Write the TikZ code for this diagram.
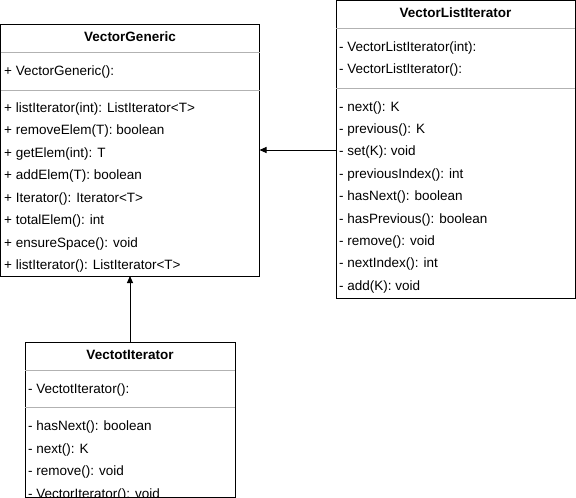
\documentclass[tikz,border=0pt]{standalone}
\usepackage{fontspec}
\setmainfont{Liberation Sans}
\usetikzlibrary{arrows.meta}
\begin{document}
\begin{tikzpicture}[x=1pt,y=-1pt,
  umlbox/.style={draw=black,line width=1pt,anchor=north west,inner sep=0pt,outer sep=0pt},
  sep/.style={draw=black!30,line width=1pt},
  title/.style={font=\fontsize{13.5}{15}\selectfont\bfseries,inner sep=0pt},
  row/.style={font=\fontsize{13.5}{15}\selectfont,anchor=west,inner sep=0pt},
  conn/.style={draw=black,line width=1pt,-{Triangle[length=7pt,width=6pt]}}]
\useasboundingbox (0,0) rectangle (576,498);
% VectorGeneric
\node[umlbox,minimum width=259pt,minimum height=252pt] (vg) at (0.5,24) {};
\node[title] (vgt) at (130,37) {VectorGeneric};
\draw[sep] (0.5,52) -- (259.5,52);
\draw[sep] (0.5,90) -- (259.5,90);
\node[row] (vg1) at (4,72.5) {+ VectorGeneric():};
\node[row] (vg2) at (4,109) {+ listIterator(int): ListIterator<T>};
\node[row] (vg3) at (4,131.5) {+ removeElem(T): boolean};
\node[row] (vg4) at (4,154) {+ getElem(int): T};
\node[row] (vg5) at (4,176.5) {+ addElem(T): boolean};
\node[row] (vg6) at (4,199) {+ Iterator(): Iterator<T>};
\node[row] (vg7) at (4,221.5) {+ totalElem(): int};
\node[row] (vg8) at (4,244) {+ ensureSpace(): void};
\node[row] (vg9) at (4,266.5) {+ listIterator(): ListIterator<T>};
% VectorListIterator
\node[umlbox,minimum width=239pt,minimum height=298pt] (vli) at (336,0.5) {};
\node[title] (vlit) at (455.5,13) {VectorListIterator};
\draw[sep] (336,28) -- (575,28);
\draw[sep] (336,88) -- (575,88);
\node[row] (vli1) at (339,48) {- VectorListIterator(int):};
\node[row] (vli2) at (339,70.5) {- VectorListIterator():};
\node[row] (vli3) at (339,108) {- next(): K};
\node[row] (vli4) at (339,130.5) {- previous(): K};
\node[row] (vli5) at (339,152.5) {- set(K): void};
\node[row] (vli6) at (339,175) {- previousIndex(): int};
\node[row] (vli7) at (339,197.5) {- hasNext(): boolean};
\node[row] (vli8) at (339,220) {- hasPrevious(): boolean};
\node[row] (vli9) at (339,242.5) {- remove(): void};
\node[row] (vli10) at (339,264.5) {- nextIndex(): int};
\node[row] (vli11) at (339,287) {- add(K): void};
% VectotIterator
\node[row] (vi1) at (28,390.5) {- VectotIterator():};
\node[row] (vi2) at (28,427.5) {- hasNext(): boolean};
\node[row] (vi3) at (28,450) {- next(): K};
\node[row] (vi4) at (28,472.5) {- remove(): void};
\node[row] (vi5) at (28,495) {- VectorIterator(): void};
\fill[white] (20,497.5) rectangle (240,502);
\node[umlbox,minimum width=210pt,minimum height=155pt] (vi) at (25,342) {};
\node[title] (vit) at (130,355) {VectotIterator};
\draw[sep] (25,370) -- (235,370);
\draw[sep] (25,407) -- (235,407);
% connectors
\draw[conn] (vli.west |- 0,150) -- (vg.east |- 0,150);
\draw[conn] (vi.north -| 130,0) -- (vg.south -| 130,0);
\end{tikzpicture}
\end{document}
